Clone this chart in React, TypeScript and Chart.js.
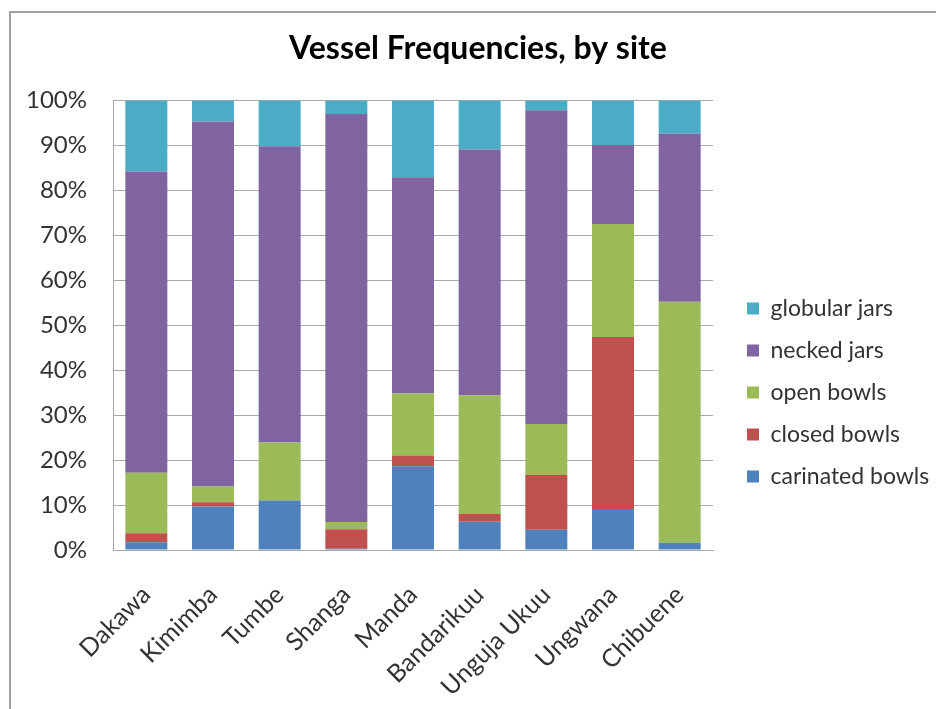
import React, { useEffect, useRef } from 'react';
import { Chart, registerables } from 'chart.js';

Chart.register(...registerables);

const sites = ['Dakawa', 'Kimimba', 'Tumbe', 'Shanga', 'Manda', 'Bandarikuu', 'Unguja Ukuu', 'Ungwana', 'Chibuene'];
const carinatedBowls = [1.7, 9.7, 11.0, 0.3, 18.6, 6.3, 4.5, 9.1, 1.6];
const closedBowls = [2.0, 0.9, 0.0, 4.3, 2.4, 1.7, 12.2, 38.3, 0.0];
const openBowls = [13.5, 3.5, 12.9, 1.6, 13.8, 26.4, 11.3, 25.1, 53.6];
const neckedJars = [67.0, 81.2, 65.9, 90.8, 48.1, 54.7, 69.8, 17.6, 37.4];
const globularJars = [15.8, 4.7, 10.2, 3.0, 17.1, 10.9, 2.2, 9.9, 7.4];
const yMin = 0;
const yMax = 100;
const yStep = 10;

const TITLE = 'Vessel Frequencies, by site';
const FONT = 'Lato';
const GRID = '#a8a8a8';
const TEXT = '#333333';

const legendPlacer = {
  id: 'legendPlacer',
  beforeLayout(chart: any) {
    const lg = chart.legend;
    if (lg && !lg.__patched) {
      const orig = lg.fit;
      lg.fit = function () {
        orig.call(this);
        this.width = 223;
      };
      lg.__patched = true;
    }
  },
  afterLayout(chart: any) {
    const lg = chart.legend;
    if (lg) {
      lg.left += 15;
      lg.right += 15;
      lg.top += 38;
      lg.bottom += 38;
    }
  },
};

export default function App() {
  const ref = useRef<HTMLCanvasElement | null>(null);

  useEffect(() => {
    if (!ref.current) return;
    const chart = new Chart(ref.current, {
      type: 'bar',
      data: {
        labels: sites,
        datasets: [
          { label: 'carinated bowls', data: carinatedBowls, backgroundColor: '#4F81BD' },
          { label: 'closed bowls', data: closedBowls, backgroundColor: '#C0504D' },
          { label: 'open bowls', data: openBowls, backgroundColor: '#9BBB59' },
          { label: 'necked jars', data: neckedJars, backgroundColor: '#8064A2' },
          { label: 'globular jars', data: globularJars, backgroundColor: '#4BACC6' },
        ],
      },
      options: {
        responsive: false,
        animation: false,
        devicePixelRatio: 1,
        layout: { padding: { left: 20, right: 0, top: 0, bottom: 0 } },
        datasets: { bar: { categoryPercentage: 0.63, barPercentage: 1.0, borderWidth: 0 } },
        plugins: {
          title: {
            display: true,
            text: TITLE,
            color: '#000000',
            font: { family: FONT, size: 32, weight: 'bold', lineHeight: 1.2 },
            padding: { top: 29, bottom: 33 },
          },
          legend: {
            display: true,
            position: 'right',
            reverse: true,
            labels: {
              boxWidth: 12,
              boxHeight: 12,
              padding: 19,
              color: TEXT,
              font: { family: FONT, size: 23 },
            },
          },
          tooltip: { enabled: false },
        },
        scales: {
          x: {
            stacked: true,
            grid: { display: false, drawTicks: false },
            border: { display: true, color: GRID, width: 1 },
            ticks: {
              minRotation: 45,
              maxRotation: 45,
              autoSkip: false,
              padding: 30,
              color: TEXT,
              font: { family: FONT, size: 25 },
            },
            afterFit: (s: any) => {
              s.height = 159;
            },
          },
          y: {
            stacked: true,
            min: yMin,
            max: yMax,
            grid: { display: true, color: GRID, lineWidth: 1, drawTicks: false },
            border: { display: true, color: GRID, width: 1 },
            ticks: {
              stepSize: yStep,
              padding: 26,
              color: TEXT,
              font: { family: FONT, size: 24 },
              callback: (v: any) => `${v}%`,
            },
            afterFit: (s: any) => {
              s.width = 93;
            },
          },
        },
      },
      plugins: [legendPlacer],
    });
    return () => chart.destroy();
  }, []);

  return (
    <div style={{ position: 'absolute', left: 0, top: 0, width: 936, height: 709, background: '#ffffff', overflow: 'hidden' }}>
      <div
        style={{
          position: 'absolute',
          left: 9,
          top: 11,
          width: 940,
          height: 710,
          borderLeft: '2px solid #a0a0a0',
          borderTop: '2px solid #a0a0a0',
          boxSizing: 'border-box',
        }}
      />
      <canvas ref={ref} width={936} height={709} style={{ position: 'absolute', left: 0, top: 0, width: 936, height: 709 }} />
    </div>
  );
}
